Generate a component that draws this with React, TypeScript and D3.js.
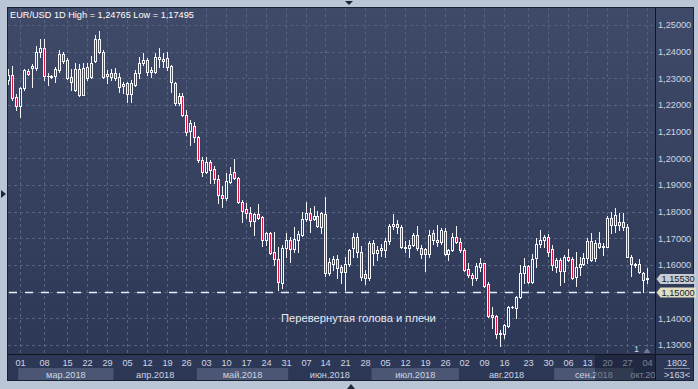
import React from 'react';
import * as d3 from 'd3';

const opens = [1.2294,1.2313,1.2231,1.2196,1.2262,1.2329,1.2338,1.2338,1.2400,1.2413,1.2310,1.2308,1.2310,1.2331,1.2391,1.2369,1.2306,1.2256,1.2334,1.2238,1.2344,1.2304,1.2366,1.2448,1.2400,1.2308,1.2304,1.2321,1.2304,1.2271,1.2281,1.2240,1.2275,1.2321,1.2356,1.2369,1.2325,1.2325,1.2371,1.2371,1.2375,1.2346,1.2284,1.2206,1.2235,1.2163,1.2104,1.2121,1.2079,1.1994,1.1950,1.1988,1.1960,1.1921,1.1863,1.1850,1.1913,1.1948,1.1925,1.1838,1.1809,1.1794,1.1766,1.1791,1.1779,1.1694,1.1719,1.1650,1.1621,1.1534,1.1663,1.1694,1.1659,1.1694,1.1713,1.1771,1.1796,1.1771,1.1784,1.1744,1.1791,1.1569,1.1605,1.1622,1.1592,1.1572,1.1605,1.1662,1.1704,1.1650,1.1568,1.1553,1.1684,1.1645,1.1655,1.1655,1.1690,1.1745,1.1753,1.1744,1.1669,1.1665,1.1675,1.1712,1.1663,1.1660,1.1640,1.1720,1.1692,1.1686,1.1729,1.1641,1.1656,1.1704,1.1688,1.1656,1.1584,1.1563,1.1550,1.1591,1.1606,1.1528,1.1413,1.1409,1.1346,1.1341,1.1373,1.1441,1.1437,1.1479,1.1569,1.1596,1.1537,1.1625,1.1677,1.1694,1.1706,1.1660,1.1591,1.1619,1.1579,1.1631,1.1621,1.1554,1.1591,1.1604,1.1625,1.1690,1.1625,1.1681,1.1666,1.1669,1.1775,1.1750,1.1750,1.1763,1.1744,1.1631,1.1604,1.1603,1.1569,1.1547];
const highs = [1.2335,1.2346,1.2240,1.2266,1.2335,1.2334,1.2353,1.2423,1.2446,1.2446,1.2319,1.2311,1.2344,1.2406,1.2398,1.2375,1.2334,1.2356,1.2353,1.2356,1.2356,1.2384,1.2463,1.2476,1.2405,1.2331,1.2334,1.2338,1.2319,1.2288,1.2288,1.2294,1.2331,1.2381,1.2394,1.2375,1.2344,1.2394,1.2415,1.2394,1.2400,1.2350,1.2288,1.2244,1.2244,1.2180,1.2144,1.2138,1.2084,1.2006,1.2006,1.1994,1.1971,1.1938,1.1896,1.1944,1.1966,1.1998,1.1929,1.1844,1.1834,1.1819,1.1794,1.1829,1.1784,1.1725,1.1725,1.1725,1.1669,1.1675,1.1721,1.1706,1.1741,1.1729,1.1800,1.1838,1.1813,1.1821,1.1804,1.1800,1.1854,1.1628,1.1634,1.1636,1.1600,1.1630,1.1660,1.1720,1.1720,1.1670,1.1580,1.1690,1.1692,1.1673,1.1680,1.1700,1.1755,1.1791,1.1768,1.1750,1.1690,1.1695,1.1720,1.1745,1.1675,1.1665,1.1730,1.1730,1.1750,1.1738,1.1738,1.1660,1.1719,1.1746,1.1700,1.1662,1.1606,1.1570,1.1606,1.1625,1.1609,1.1536,1.1444,1.1413,1.1356,1.1379,1.1446,1.1446,1.1484,1.1600,1.1625,1.1600,1.1641,1.1700,1.1731,1.1713,1.1716,1.1675,1.1625,1.1625,1.1637,1.1659,1.1629,1.1650,1.1631,1.1646,1.1700,1.1721,1.1694,1.1725,1.1681,1.1784,1.1800,1.1813,1.1794,1.1794,1.1752,1.1637,1.1609,1.1621,1.1575,1.1588];
const lows = [1.2280,1.2219,1.2183,1.2154,1.2256,1.2313,1.2269,1.2331,1.2381,1.2294,1.2275,1.2302,1.2288,1.2325,1.2356,1.2296,1.2256,1.2254,1.2235,1.2236,1.2294,1.2300,1.2362,1.2395,1.2300,1.2281,1.2294,1.2294,1.2250,1.2246,1.2213,1.2213,1.2271,1.2300,1.2350,1.2313,1.2306,1.2319,1.2344,1.2344,1.2331,1.2250,1.2200,1.2200,1.2159,1.2088,1.2050,1.2063,1.1988,1.1934,1.1944,1.1909,1.1909,1.1831,1.1819,1.1844,1.1909,1.1921,1.1834,1.1763,1.1775,1.1746,1.1713,1.1771,1.1671,1.1675,1.1640,1.1600,1.1506,1.1513,1.1631,1.1613,1.1650,1.1650,1.1709,1.1766,1.1725,1.1769,1.1741,1.1721,1.1559,1.1562,1.1580,1.1550,1.1531,1.1508,1.1598,1.1630,1.1630,1.1545,1.1528,1.1545,1.1600,1.1620,1.1635,1.1630,1.1680,1.1735,1.1720,1.1665,1.1650,1.1630,1.1670,1.1655,1.1625,1.1578,1.1630,1.1680,1.1672,1.1680,1.1636,1.1620,1.1654,1.1684,1.1650,1.1579,1.1556,1.1525,1.1544,1.1579,1.1518,1.1406,1.1363,1.1325,1.1298,1.1325,1.1369,1.1438,1.1400,1.1475,1.1531,1.1531,1.1531,1.1594,1.1669,1.1669,1.1634,1.1581,1.1575,1.1525,1.1537,1.1616,1.1546,1.1521,1.1563,1.1600,1.1606,1.1616,1.1616,1.1662,1.1637,1.1666,1.1719,1.1725,1.1731,1.1731,1.1629,1.1557,1.1594,1.1569,1.1500,1.1531];
const closes = [1.2313,1.2225,1.2196,1.2262,1.2331,1.2316,1.2346,1.2400,1.2413,1.2310,1.2308,1.2304,1.2334,1.2391,1.2366,1.2300,1.2288,1.2334,1.2238,1.2340,1.2300,1.2356,1.2448,1.2400,1.2306,1.2318,1.2321,1.2300,1.2269,1.2279,1.2241,1.2281,1.2321,1.2359,1.2369,1.2325,1.2331,1.2381,1.2379,1.2366,1.2344,1.2288,1.2206,1.2234,1.2163,1.2100,1.2131,1.2079,1.1994,1.1950,1.1988,1.1956,1.1921,1.1863,1.1850,1.1916,1.1941,1.1925,1.1838,1.1804,1.1794,1.1766,1.1791,1.1775,1.1694,1.1719,1.1646,1.1621,1.1538,1.1663,1.1694,1.1659,1.1696,1.1716,1.1771,1.1796,1.1769,1.1784,1.1746,1.1794,1.1569,1.1610,1.1624,1.1590,1.1575,1.1605,1.1655,1.1704,1.1650,1.1556,1.1553,1.1684,1.1645,1.1656,1.1662,1.1690,1.1745,1.1753,1.1744,1.1669,1.1665,1.1675,1.1712,1.1663,1.1640,1.1640,1.1712,1.1692,1.1686,1.1731,1.1641,1.1656,1.1704,1.1688,1.1656,1.1581,1.1563,1.1550,1.1596,1.1606,1.1521,1.1409,1.1406,1.1341,1.1341,1.1375,1.1441,1.1444,1.1479,1.1569,1.1596,1.1537,1.1622,1.1677,1.1694,1.1706,1.1650,1.1600,1.1619,1.1579,1.1631,1.1619,1.1550,1.1591,1.1604,1.1625,1.1691,1.1619,1.1681,1.1666,1.1671,1.1775,1.1750,1.1788,1.1763,1.1744,1.1631,1.1603,1.1600,1.1575,1.1544,1.1553];

const priceTicks = [1.13, 1.14, 1.16, 1.17, 1.18, 1.19, 1.20, 1.21, 1.22, 1.23, 1.24, 1.25];
const gridPrices = [1.13, 1.14, 1.15, 1.16, 1.17, 1.18, 1.19, 1.20, 1.21, 1.22, 1.23, 1.24, 1.25];
const dateTickIndex = [3, 9, 15, 20, 25, 30, 35, 40, 45, 50, 55, 60, 65, 70, 75, 80, 85, 90, 95, 100, 105, 110, 115, 120, 125, 131, 136, 141, 146, 151, 156, 161];
const dateTickLabels = ['01', '08', '15', '22', '29', '05', '12', '19', '26', '03', '10', '17', '24', '31', '07', '14', '21', '28', '05', '12', '19', '26', '02', '09', '16', '23', '30', '06', '13', '20', '27', '04'];
const monthNames = ['мар.2018', 'апр.2018', 'май.2018', 'июн.2018', 'июл.2018', 'авг.2018', 'сен.2018', 'окт.2018'];
const monthStart = [3, 27, 48, 71, 92, 114, 138, 158];
const monthEnd = [26, 47, 70, 91, 113, 137, 157, 161];

const lastPrice = 1.1553;
const levelPrice = 1.15;
const headerText = 'EUR/USD 1D High = 1,24765 Low = 1,17495';
const annotationText = 'Перевернутая голова и плечи';

const fmt = (v: number) => v.toFixed(5).replace('.', ',');

export default function App() {
  const W = 698, H = 389;
  const L = 8, T = 8, R = 655, B = 354, FB = 380, FR = 693;
  const n = opens.length;
  const x = d3.scaleLinear().domain([0, n - 1]).range([8.3, 647.5]);
  const y = d3.scaleLinear().domain([1.13, 1.25]).range([345, 25]);
  const font = '"Liberation Sans", Arial, sans-serif';
  const px = (i: number) => Math.floor(x(i)) + 0.5;
  const txt = '#cdd5e2';

  const candles = opens.map((o, i) => {
    const c = closes[i];
    const up = c >= o;
    const cx = px(i);
    const top = Math.round(y(Math.max(o, c)));
    const bot = Math.round(y(Math.min(o, c)));
    const h = Math.max(1, bot - top + 1);
    const yh = Math.round(y(highs[i]));
    const yl = Math.round(y(lows[i])) + 1;
    return (
      <g key={i}>
        <line x1={cx} x2={cx} y1={yh} y2={yl} stroke="#f4f6fa" strokeWidth={1} />
        <rect x={cx - 1.5} y={top} width={3} height={h} fill="#f4f6fa" />
        {h > 2 && (
          <rect x={cx - 0.5} y={top + 1} width={1} height={h - 2} fill={up ? 'url(#bgGrad)' : '#d9163f'} />
        )}
      </g>
    );
  });

  const tagY1 = y(lastPrice) + 1.5;
  const tagY2 = y(levelPrice) + 0.8;
  const tag = (cy: number, fill: string, label: string) => (
    <g>
      <polygon points={`656.5,${cy} 660.5,${cy - 5} 696,${cy - 5} 696,${cy + 5} 660.5,${cy + 5}`} fill={fill} />
      <text x={661.5} y={cy + 3.3} fontSize={9.2} fill="#141a26" fontFamily={font}>{label}</text>
    </g>
  );

  return (
    <svg width={W} height={H} style={{ position: 'absolute', left: 0, top: 0 }}>
      <defs>
        <linearGradient id="bgGrad" gradientUnits="userSpaceOnUse" x1={0} y1={T} x2={0} y2={FB}>
          <stop offset="0" stopColor="#3e4a68" />
          <stop offset="1" stopColor="#2c3756" />
        </linearGradient>
        <clipPath id="plotClip">
          <rect x={L} y={T} width={R - L} height={B - T} />
        </clipPath>
        <clipPath id="axisClip">
          <rect x={L} y={B} width={R - L} height={FB - B} />
        </clipPath>
      </defs>
      <rect x={0} y={0} width={W} height={H} fill="#bac6d6" />
      <rect x={L} y={T} width={FR - L} height={FB - T} fill="url(#bgGrad)" />

      {/* grid */}
      <g clipPath="url(#plotClip)">
        {gridPrices.map((p) => (
          <line key={p} x1={L} x2={R} y1={Math.round(y(p)) + 0.5} y2={Math.round(y(p)) + 0.5}
            stroke="#56627f" strokeWidth={1} strokeDasharray="3,3" />
        ))}
        {dateTickIndex.map((i) => (
          <line key={i} x1={px(i)} x2={px(i)} y1={T} y2={B} stroke="#56627f" strokeWidth={1} strokeDasharray="3,3" />
        ))}
        <line x1={9} x2={R} y1={Math.round(y(levelPrice)) + 0.5} y2={Math.round(y(levelPrice)) + 0.5}
          stroke="#e8ecf4" strokeWidth={1.3} strokeDasharray="8,8" />
        {candles}
        <text x={281} y={322} fontSize={11.2} fill="#e6eaf2" fontFamily={font}>{annotationText}</text>
        <text x={634} y={352} fontSize={9} fill={txt} fontFamily={font}>1</text>
        <polygon points="643.5,353 650.5,353 647,348" fill="#6f7a90" />
      </g>

      {/* header */}
      <text x={10} y={18} fontSize={9.2} fill="#ffffff" fontFamily={font}>{headerText}</text>

      {/* right axis */}
      {priceTicks.map((p) => (
        <text key={p} x={658} y={y(p) + 3.4} fontSize={9.2} fill={txt} fontFamily={font}>{fmt(p)}</text>
      ))}

      {/* date axis */}
      <g clipPath="url(#axisClip)">
        {monthNames.map((m, k) => {
          const x0 = x(monthStart[k] - 0.5);
          const x1 = x(monthEnd[k] + 0.5);
          const shaded = k % 2 === 0;
          const cxm = k === monthNames.length - 1 ? 648 : (x(monthStart[k]) + x(monthEnd[k])) / 2;
          return (
            <g key={m}>
              {shaded && <rect x={x0} y={368} width={x1 - x0} height={12} fill="#4a5674" />}
              <text x={cxm} y={377.5} fontSize={9.2} fill={txt} fontFamily={font} textAnchor="middle">{m}</text>
            </g>
          );
        })}
        {dateTickIndex.map((i, k) => (
          <text key={i} x={px(i)} y={366} fontSize={9.2} fill={txt} fontFamily={font} textAnchor="middle">{dateTickLabels[k]}</text>
        ))}
        <rect x={595} y={355} width={60} height={25} fill="rgba(18,24,40,0.45)" />
      </g>

      <text x={677} y={366} fontSize={9.2} fill={txt} fontFamily={font} textAnchor="middle">1802</text>
      <line x1={664} x2={690} y1={368.5} y2={368.5} stroke="#7e889c" strokeWidth={1} />
      <text x={677} y={378} fontSize={9.2} fill={txt} fontFamily={font} textAnchor="middle">&gt;163&lt;</text>

      {/* frame lines */}
      <rect x={7.5} y={7.5} width={FR - 7} height={FB - 7} fill="none" stroke="#1a2132" strokeWidth={1} />
      <line x1={R + 0.5} x2={R + 0.5} y1={T} y2={FB} stroke="#10151f" strokeWidth={1} />
      <line x1={L} x2={FR} y1={B + 0.5} y2={B + 0.5} stroke="#10151f" strokeWidth={1} />

      {/* price tags */}
      {tag(tagY1, '#c6cbd4', fmt(lastPrice))}
      {tag(tagY2, '#e0ddc2', fmt(levelPrice))}

      {/* handles */}
      <polygon points="345,1 353,1 349,5" fill="#1e2638" />
      <polygon points="347,389 355,389 351,384" fill="#1e2638" />
      <polygon points="1,190 1,198 6,194" fill="#1e2638" />
    </svg>
  );
}
